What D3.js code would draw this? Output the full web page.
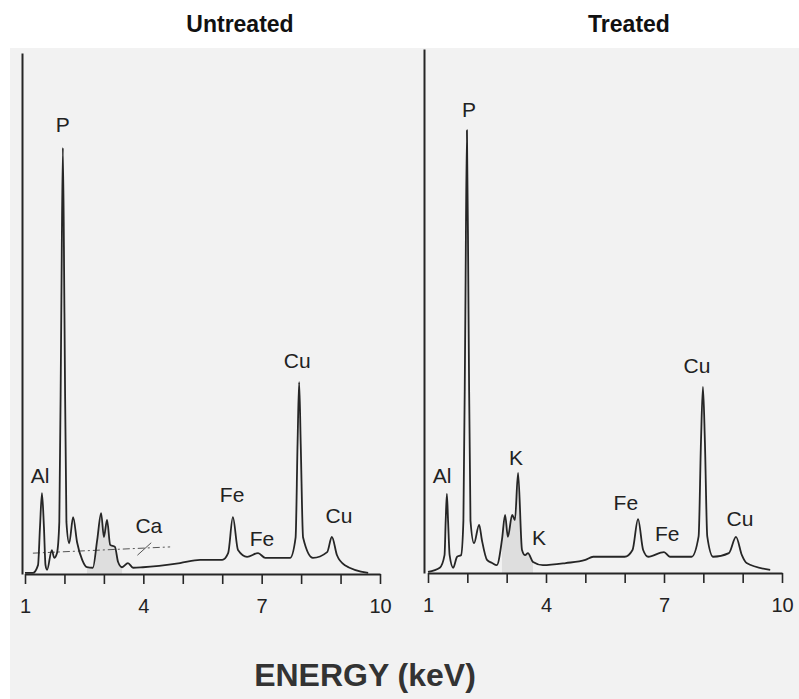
<!DOCTYPE html>
<html><head><meta charset="utf-8">
<script src="https://cdn.jsdelivr.net/npm/d3@7"></script>
<style>html,body{margin:0;padding:0;background:#fff;}svg{display:block;}</style>
</head><body>
<script>
// ---------- DATA ----------
const energyTicks = [1,2,3,4,5,6,7,8,9,10];
const labeledTicks = [1,4,7,10];
const panelTitles = ["Untreated","Treated"];
const axisTitle = "ENERGY (keV)";

// [energy keV, counts (arb.)]
const untreatedSpectrum = [
 [1.00,2],[1.20,2],[1.33,17],[1.38,90],[1.43,155],[1.48,90],[1.52,17],[1.56,8],[1.68,46],[1.74,31],
 [1.81,40],[1.87,100],[1.92,500],[1.96,818],[2.00,500],[2.05,100],[2.12,59],[2.22,109],[2.32,61],[2.45,27],
 [2.57,13],[2.72,12],[2.83,65],[2.93,117],[3.00,71],[3.08,104],[3.16,56],[3.28,52],[3.36,23],[3.46,13],
 [3.61,21],[3.74,12],[3.99,13],[4.93,21],[5.44,27],[6.00,27],[6.15,40],[6.27,109],
 [6.40,46],[6.63,33],[6.91,40],[7.09,31],[7.72,31],[7.86,70],[7.91,250],[7.95,368],[7.99,250],[8.05,70],
 [8.30,31],[8.66,42],[8.78,71],[8.91,36],[9.11,17],[9.70,2]
];
const treatedSpectrum = [
 [1.00,2],[1.30,10],[1.42,34],[1.45,100],[1.48,151],[1.51,100],[1.55,34],[1.64,10],[1.74,31],[1.84,34],
 [1.90,100],[1.95,500],[1.99,845],[2.03,500],[2.08,100],[2.17,57],[2.30,92],[2.37,63],[2.50,25],[2.63,19],
 [2.75,15],[2.88,63],[2.96,111],[3.03,69],[3.14,111],[3.21,101],[3.29,191],[3.39,44],[3.47,34],[3.54,38],
 [3.67,21],[3.92,15],[4.50,19],[5.00,25],[5.20,31],[6.00,31],[6.20,44],[6.34,103],
 [6.47,44],[6.60,31],[7.00,40],[7.15,31],[7.70,31],[7.88,70],[7.94,250],[7.99,355],[8.04,250],[8.10,70],
 [8.25,31],[8.65,38],[8.83,69],[8.98,34],[9.10,19],[9.70,6]
];
// shaded region (energy range)
const untreatedShade = [2.55, 3.46];
const treatedShade = [2.80, 3.75];
// dashed marker line in untreated panel [energy, counts]
const untreatedDashed = [[1.20,40],[4.68,52]];
const caMarker = [[3.85,36],[4.20,60]];

// peak labels [element, energy, counts]
const untreatedLabels = [["P",1.96,848],["Al",1.38,175],["Ca",4.14,79],["Fe",6.25,138],["Fe",7.01,54],["Cu",7.90,395],["Cu",8.96,98]];
const treatedLabels = [["P",2.04,870],["Al",1.36,172],["K",3.24,206],["K",3.82,53],["Fe",6.03,120],["Fe",7.08,61],["Cu",7.84,382],["Cu",8.93,90]];

// ---------- LAYOUT ----------
const W = 799, H = 699;
const panels = [
 {title:panelTitles[0], titleX:240, data:untreatedSpectrum, shade:untreatedShade, labels:untreatedLabels,
  x0:25, x1:380, base:574, top:53, axisX:22, dashed:true},
 {title:panelTitles[1], titleX:629, data:treatedSpectrum, shade:treatedShade, labels:treatedLabels,
  x0:428, x1:782, base:573, top:49, axisX:424, dashed:false}
];
const ink = "#262626";

const svg = d3.select("body").append("svg").attr("width",W).attr("height",H)
  .style("font-family","Arial, 'Liberation Sans', sans-serif");
svg.append("rect").attr("width",W).attr("height",H).attr("fill","#fff");
svg.append("rect").attr("x",10).attr("y",48).attr("width",W-10).attr("height",H-48).attr("fill","#f2f2f2");

panels.forEach(p=>{
  const x = d3.scaleLinear().domain([1,10]).range([p.x0,p.x1]);
  const y = d3.scaleLinear().domain([0,1000]).range([p.base,p.top]);
  const g = svg.append("g");

  // title
  svg.append("text").attr("x",p.titleX).attr("y",32).attr("text-anchor","middle")
    .attr("font-weight","bold").attr("font-size",23).attr("fill","#111").text(p.title);

  // shaded area
  const shadePts = p.data.filter(d=>d[0]>=p.shade[0]&&d[0]<=p.shade[1]);
  g.append("path").datum(shadePts)
    .attr("d", d3.area().x(d=>x(d[0])).y0(y(0)).y1(d=>y(d[1])).curve(d3.curveMonotoneX))
    .attr("fill","#dedede");

  if(p.dashed){
    g.append("path").datum(untreatedDashed)
      .attr("d", d3.line().x(d=>x(d[0])).y(d=>y(d[1])))
      .attr("stroke","#555").attr("stroke-width",1).attr("stroke-dasharray","7,3,2,3").attr("fill","none");
    g.append("path").datum(caMarker)
      .attr("d", d3.line().x(d=>x(d[0])).y(d=>y(d[1])))
      .attr("stroke","#555").attr("stroke-width",1).attr("fill","none");
  }

  // spectrum
  g.append("path").datum(p.data)
    .attr("d", d3.line().x(d=>x(d[0])).y(d=>y(d[1])).curve(d3.curveMonotoneX))
    .attr("fill","none").attr("stroke",ink).attr("stroke-width",1.8).attr("stroke-linejoin","round");

  // x axis
  const ax = g.append("g").attr("transform",`translate(0,${p.base})`)
    .call(d3.axisBottom(x).tickValues(energyTicks).tickSize(10).tickSizeOuter(0).tickPadding(15)
      .tickFormat(d=>labeledTicks.includes(d)?String(d):""));
  ax.select(".domain").attr("stroke",ink).attr("stroke-width",1.8);
  ax.selectAll(".tick line").attr("stroke",ink).attr("stroke-width",1.6);
  ax.selectAll(".tick text").attr("font-size",20).attr("fill","#222")
    .attr("font-family","Arial, 'Liberation Sans', sans-serif");

  // y axis
  const ay = g.append("g").attr("transform",`translate(${p.axisX},0)`)
    .call(d3.axisLeft(y).tickValues([]).tickSizeOuter(0));
  ay.select(".domain").attr("stroke",ink).attr("stroke-width",2);

  // peak labels
  g.selectAll("text.pk").data(p.labels).enter().append("text").attr("class","pk")
    .attr("x",d=>x(d[1])).attr("y",d=>y(d[2])).attr("text-anchor","middle")
    .attr("font-size",21).attr("fill","#222").text(d=>d[0]);
});

svg.append("text").attr("x",365).attr("y",686).attr("text-anchor","middle")
  .attr("font-weight","bold").attr("font-size",32).attr("fill","#333").text(axisTitle);
</script>
</body></html>
